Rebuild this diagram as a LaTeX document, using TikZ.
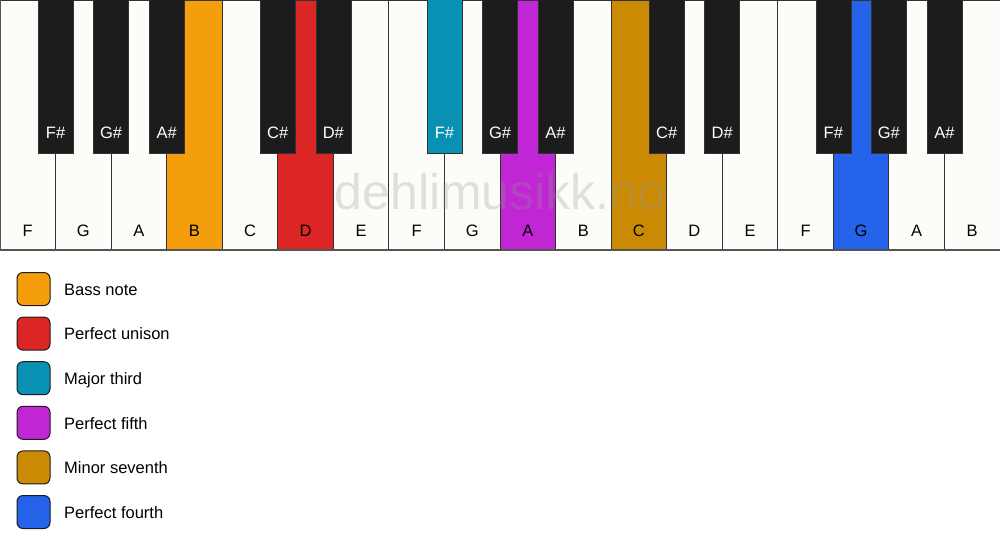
\documentclass[tikz,border=0pt]{standalone}
\usepackage{fontspec}
\setmainfont{Liberation Sans}
\definecolor{keywhite}{HTML}{FDFCF9}
\definecolor{keyblack}{HTML}{1C1C1C}
\definecolor{cbass}{HTML}{F59E0B}
\definecolor{cunison}{HTML}{DC2626}
\definecolor{cthird}{HTML}{0891B2}
\definecolor{cfifth}{HTML}{C026D3}
\definecolor{cseventh}{HTML}{CA8A04}
\definecolor{cfourth}{HTML}{2563EB}
\definecolor{edge}{HTML}{333333}
\definecolor{frame}{HTML}{555555}
\definecolor{wmark}{HTML}{969696}
\tikzset{
  whitekey/.style={draw=edge, line width=1pt, fill=keywhite},
  blackkey/.style={draw=edge, line width=0.6pt, fill=keyblack},
  wlabel/.style={font=\fontsize{16.5}{16.5}\selectfont, text=black, anchor=base},
  blabel/.style={font=\fontsize{16.5}{16.5}\selectfont, text=white, anchor=base},
  legbox/.style={draw=keyblack, line width=1pt, rounded corners=6pt, minimum width=33pt, minimum height=33pt, inner sep=0pt},
  legtext/.style={font=\fontsize{16.5}{16.5}\selectfont, anchor=base west, inner sep=0pt},
}
\begin{document}
\begin{tikzpicture}[x=1pt,y=-1pt]
\useasboundingbox (0,0) rectangle (1000,550);
\fill[white] (0,0) rectangle (1000,550);
\def\kw{55.5556}
% white keys
\foreach \i/\n/\c in {0/F/keywhite,1/G/keywhite,2/A/keywhite,3/B/cbass,4/C/keywhite,5/D/cunison,6/E/keywhite,7/F/keywhite,8/G/keywhite,9/A/cfifth,10/B/keywhite,11/C/cseventh,12/D/keywhite,13/E/keywhite,14/F/keywhite,15/G/cfourth,16/A/keywhite,17/B/keywhite}{
  \draw[whitekey, fill=\c] ({\i*\kw},0) rectangle ({(\i+1)*\kw},250);
  \node[wlabel] (w\i) at ({(\i+0.5)*\kw},236) {\n};
}
\draw[draw=frame, line width=2pt] (0,250) -- (1000,250);
\draw[draw=frame, line width=1pt] (0,0) -- (0,250);
% black keys
\foreach \b/\n/\c in {1/F\#/keyblack,2/G\#/keyblack,3/A\#/keyblack,5/C\#/keyblack,6/D\#/keyblack,8/F\#/cthird,9/G\#/keyblack,10/A\#/keyblack,12/C\#/keyblack,13/D\#/keyblack,15/F\#/keyblack,16/G\#/keyblack,17/A\#/keyblack}{
  \draw[blackkey, fill=\c] ({\b*\kw-17.5},-1) rectangle ({\b*\kw+17.5},153);
  \node[blabel] (k\b) at ({\b*\kw},138.5) {\n};
}
% watermark
\node[font=\fontsize{50}{50}\selectfont, text=wmark, text opacity=0.28] (wm) at (500,192) {dehlimusikk.no};
% legend
\foreach \j/\c/\t in {0/cbass/Bass note,1/cunison/Perfect unison,2/cthird/Major third,3/cfifth/Perfect fifth,4/cseventh/Minor seventh,5/cfourth/Perfect fourth}{
  \node[legbox, fill=\c] (lb\j) at (33.5,{289+\j*44.6}) {};
  \node[legtext] (lt\j) at (64,{295.3+\j*44.6}) {\t};
}
\end{tikzpicture}
\end{document}
